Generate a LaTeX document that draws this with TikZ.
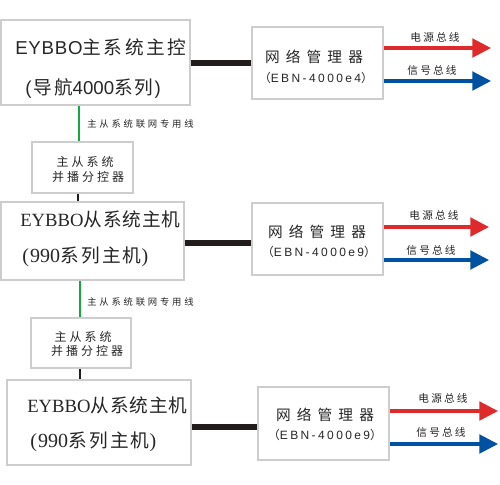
\documentclass[tikz,border=0pt]{standalone}
\usepackage{fontspec}
\setmainfont{Liberation Sans}
\newfontfamily\cjk{Noto Sans CJK SC}
\newfontfamily\serifl{Liberation Serif}
\usetikzlibrary{arrows.meta,fit}
\definecolor{boxgray}{RGB}{205,205,205}
\definecolor{busred}{RGB}{222,42,42}
\definecolor{busblue}{RGB}{0,82,160}
\definecolor{netgreen}{RGB}{20,170,60}
\definecolor{linkblack}{RGB}{35,28,28}
\begin{document}
\begin{tikzpicture}[x=0.75pt,y=-0.75pt,
  box/.style={draw=boxgray,line width=0.8pt,inner sep=0pt},
  txt/.style={inner sep=0pt,text=black!85},
  hosttxt/.style={txt,anchor=west,font=\fontsize{14pt}{16pt}\selectfont},
  mgrtxt/.style={txt,font=\fontsize{11pt}{13pt}\selectfont},
  modeltxt/.style={txt,font=\fontsize{9pt}{11pt}\selectfont},
  bustxt/.style={txt,font=\fontsize{8pt}{10pt}\selectfont},
  nettxt/.style={txt,anchor=west,font=\fontsize{7pt}{9pt}\selectfont},
  splittxt/.style={txt,font=\fontsize{9pt}{11pt}\selectfont},
  hostlink/.style={draw=linkblack,line width=4.5pt},
  shortlink/.style={draw=linkblack,line width=2pt},
  netlink/.style={draw=netgreen,line width=2.2pt},
  redbus/.style={draw=busred,line width=2.3pt,-{Triangle[length=14pt,width=14pt]},busred},
  bluebus/.style={draw=busblue,line width=2.3pt,-{Triangle[length=14pt,width=14pt]},busblue}
]
\useasboundingbox (0,0) rectangle (500,485);

% ---- boxes ----
\node[box,fit={(1,20) (190,105)}] (host1) {};
\node[box,fit={(252,27) (383,99)}] (mgr1) {};
\node[box,fit={(32,142) (133,193)}] (split1) {};
\node[box,fit={(1,202) (184,280)}] (host2) {};
\node[box,fit={(252,203) (383,275)}] (mgr2) {};
\node[box,fit={(31,318) (131,368)}] (split2) {};
\node[box,fit={(7,380) (191,465)}] (host3) {};
\node[box,fit={(258,387) (389,460)}] (mgr3) {};

% ---- texts ----
\node[hosttxt] (h1a) at (15,47) {{\addfontfeatures{LetterSpace=4}EYBBO}{\cjk\addfontfeatures{LetterSpace=14}主系统主控}};
\node[hosttxt] (h1b) at (25,88) {(\kern1.5pt{\cjk\addfontfeatures{LetterSpace=10}导航}4000{\cjk\addfontfeatures{LetterSpace=10}系列}\kern1pt)};
\node[hosttxt] (h2a) at (20,219) {{\serifl EYBBO}{\cjk\addfontfeatures{LetterSpace=5}从系统主机}};
\node[hosttxt] (h2b) at (22,257) {{\serifl\fontsize{15pt}{17pt}\selectfont (\kern1pt990}{\cjk\addfontfeatures{LetterSpace=12}系列主机}{\serifl\fontsize{15pt}{17pt}\selectfont )}};
\node[hosttxt] (h3a) at (27,405) {{\serifl EYBBO}{\cjk\addfontfeatures{LetterSpace=5}从系统主机}};
\node[hosttxt] (h3b) at (30,442) {{\serifl\fontsize{15pt}{17pt}\selectfont (\kern1pt990}{\cjk\addfontfeatures{LetterSpace=12}系列主机}{\serifl\fontsize{15pt}{17pt}\selectfont )}};

\node[mgrtxt] (m1a) at (314,57) {\cjk\addfontfeatures{LetterSpace=42}网络管理器};
\node[modeltxt] (m1b) at (316,78) {{\cjk（}\addfontfeatures{LetterSpace=20}EBN-4000e4{\cjk）}};
\node[mgrtxt] (m2a) at (317,232) {\cjk\addfontfeatures{LetterSpace=42}网络管理器};
\node[modeltxt] (m2b) at (319,252) {{\cjk（}\addfontfeatures{LetterSpace=20}EBN-4000e9{\cjk）}};
\node[mgrtxt] (m3a) at (325,415) {\cjk\addfontfeatures{LetterSpace=42}网络管理器};
\node[modeltxt] (m3b) at (325,435) {{\cjk（}\addfontfeatures{LetterSpace=20}EBN-4000e9{\cjk）}};

\node[splittxt] (s1a) at (85,162) {\cjk\addfontfeatures{LetterSpace=25}主从系统};
\node[splittxt] (s1b) at (88,177) {\cjk\addfontfeatures{LetterSpace=25}并播分控器};
\node[splittxt] (s2a) at (83,337) {\cjk\addfontfeatures{LetterSpace=25}主从系统};
\node[splittxt] (s2b) at (87,351) {\cjk\addfontfeatures{LetterSpace=25}并播分控器};

\node[nettxt] (n1) at (87,124) {\cjk\addfontfeatures{LetterSpace=30}主从系统联网专用线};
\node[nettxt] (n2) at (87,302) {\cjk\addfontfeatures{LetterSpace=30}主从系统联网专用线};

\node[bustxt] (p1) at (435,37) {\cjk\addfontfeatures{LetterSpace=20}电源总线};
\node[bustxt] (g1) at (432,70) {\cjk\addfontfeatures{LetterSpace=20}信号总线};
\node[bustxt] (p2) at (434,215) {\cjk\addfontfeatures{LetterSpace=20}电源总线};
\node[bustxt] (g2) at (431,250) {\cjk\addfontfeatures{LetterSpace=20}信号总线};
\node[bustxt] (p3) at (443,398) {\cjk\addfontfeatures{LetterSpace=20}电源总线};
\node[bustxt] (g3) at (441,432) {\cjk\addfontfeatures{LetterSpace=20}信号总线};

% ---- helper coordinates ----
\coordinate (y1) at (0,63);
\coordinate (y2) at (0,243);
\coordinate (y3) at (0,427);
\coordinate (gx1) at (79,0);
\coordinate (gx2) at (80,0);
\coordinate (bx1) at (78,0);
\coordinate (bx2) at (80,0);
\coordinate (r1) at (491,48);
\coordinate (b1) at (491,81);
\coordinate (r2) at (489,227);
\coordinate (b2) at (489,260);
\coordinate (r3) at (498,411);
\coordinate (b3) at (498,444);

% ---- connectors ----
\draw[hostlink] (host1.east |- y1) -- (mgr1.west |- y1);
\draw[hostlink] (host2.east |- y2) -- (mgr2.west |- y2);
\draw[hostlink] (host3.east |- y3) -- (mgr3.west |- y3);

\draw[netlink] (host1.south -| gx1) -- (split1.north -| gx1);
\draw[shortlink] (split1.south -| bx1) -- (host2.north -| bx1);
\draw[netlink] (host2.south -| gx2) -- (split2.north -| gx2);
\draw[shortlink] (split2.south -| bx2) -- (host3.north -| bx2);

\draw[redbus] (mgr1.east |- r1) -- (r1);
\draw[bluebus] (mgr1.east |- b1) -- (b1);
\draw[redbus] (mgr2.east |- r2) -- (r2);
\draw[bluebus] (mgr2.east |- b2) -- (b2);
\draw[redbus] (mgr3.east |- r3) -- (r3);
\draw[bluebus] (mgr3.east |- b3) -- (b3);
\end{tikzpicture}
\end{document}
